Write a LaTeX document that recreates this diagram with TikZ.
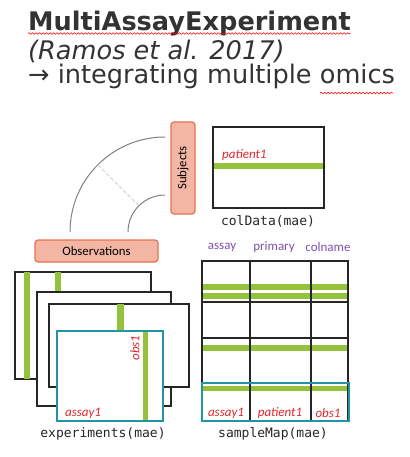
\documentclass[tikz,border=0pt]{standalone}
\usepackage{fontspec}
\setmainfont{Carlito}
\newfontfamily\titlefont{DejaVu Sans}
\newfontfamily\codefont{DejaVu Sans Mono}
\usetikzlibrary{decorations.pathmorphing}

\definecolor{salmonfill}{HTML}{F4B6A4}
\definecolor{salmonline}{HTML}{E8714F}
\definecolor{barcol}{HTML}{95C23D}
\definecolor{tealcol}{HTML}{2394A6}
\definecolor{redtxt}{HTML}{E0262C}
\definecolor{purptxt}{HTML}{7F4FB0}
\definecolor{darktxt}{HTML}{333333}

\tikzset{
	labelbox/.style={draw=salmonline, fill=salmonfill, line width=1.2pt,
		rounded corners=3pt, inner sep=0pt, font=\fontsize{12.8}{13}\selectfont},
	tablebox/.style={draw=black!85, line width=1.2pt, fill=white},
	tealbox/.style={draw=tealcol, line width=2.2pt},
	redlab/.style={text=redtxt, font=\fontsize{13}{14}\selectfont\itshape, inner sep=0pt},
	headlab/.style={text=purptxt, font=\fontsize{13}{14}\selectfont, inner sep=0pt},
	codelab/.style={font=\codefont\fontsize{13}{14}\selectfont, text=black!85, inner sep=0pt},
	titlelab/.style={anchor=base west, inner sep=0pt, text=darktxt},
	squiggle/.style={draw=red, line width=0.6pt,
		decorate, decoration={snake, amplitude=0.8pt, segment length=3.5pt}}
}

\begin{document}
\begin{tikzpicture}[x=1pt,y=-1pt]
	\useasboundingbox (0,0) rectangle (409,457);

	% title
	\node[titlelab, font=\titlefont\bfseries\fontsize{25.6}{27}\selectfont] (t1) at (28,31) {MultiAssayExperiment};
	\node[titlelab, font=\titlefont\itshape\fontsize{25.6}{27}\selectfont] (t2) at (28,59.5) {(Ramos et al. 2017)};
	\node[titlelab, font=\titlefont\fontsize{25.6}{27}\selectfont] (t3) at (28,83.5) {→ integrating multiple omics};
	\draw[squiggle] (28,33.5) -- (350,33.5);
	\draw[squiggle] (320,93) -- (393,93);

	% arcs between observations and subjects
	\coordinate (c) at (165,232);
	\draw[gray, line width=1pt] (70,232) arc[start angle=180, end angle=270, radius=95];
	\draw[gray, line width=1pt] (128,232) arc[start angle=180, end angle=270, radius=37];
	\draw[black!15, dashed, dash pattern=on 4pt off 2pt, line width=1.2pt] ([shift={(225:95)}]c) -- ([shift={(225:38)}]c);

	\node[labelbox, minimum width=123, minimum height=22] (obs) at (96.5,251) {Observations};
	\node[labelbox, rotate=90, minimum width=92, minimum height=24] (subj) at (183,168) {Subjects};

	% colData
	\draw[tablebox] (213,127) rectangle (324,208);
	\fill[barcol] (214,163) rectangle (323,169);
	\node[redlab, anchor=west] (pat) at (222,155) {patient1};
	\node[codelab] (cd) at (268,221) {colData(mae)};

	% experiments
	\draw[tablebox] (15,272) rectangle (151,379);
	\fill[barcol] (24,272) rectangle (30,379);
	\fill[barcol] (55,272) rectangle (61,379);
	\draw[tablebox] (37,292) rectangle (171,406);
	\draw[tablebox] (49,304) rectangle (189,387);
	\fill[barcol] (117,304) rectangle (124,387);
	\fill[white] (57,331) rectangle (163,421);
	\fill[barcol] (143,331) rectangle (148,421);
	\draw[tealbox] (57,331) rectangle (163,421);
	\node[redlab, rotate=90] (o1) at (135,348) {obs1};
	\node[redlab, anchor=west] (a1) at (65,413) {assay1};
	\node[codelab] (ex) at (103,434) {experiments(mae)};

	% sampleMap
	\node[headlab] (h1) at (222,247) {assay};
	\node[headlab] (h2) at (274,247) {primary};
	\node[headlab] (h3) at (328,247) {colname};
	\fill[barcol] (202,284) rectangle (348,290);
	\fill[barcol] (202,293) rectangle (348,299);
	\fill[barcol] (202,345) rectangle (348,351);
	\fill[barcol] (202,386) rectangle (348,391);
	\draw[tablebox, fill=none] (202,261) rectangle (348,421);
	\foreach \xx in {250,311}
		\draw[black!85, line width=1.2pt] (\xx,261) -- (\xx,421);
	\foreach \yy in {302,338}
		\draw[black!85, line width=1.2pt] (202,\yy) -- (348,\yy);
	\draw[tealbox] (202,383) rectangle (349,421);
	\node[redlab] (sa) at (226,413) {assay1};
	\node[redlab] (sp) at (280,413) {patient1};
	\node[redlab] (so) at (328,413) {obs1};
	\node[codelab] (sm) at (273,434) {sampleMap(mae)};
\end{tikzpicture}
\end{document}
